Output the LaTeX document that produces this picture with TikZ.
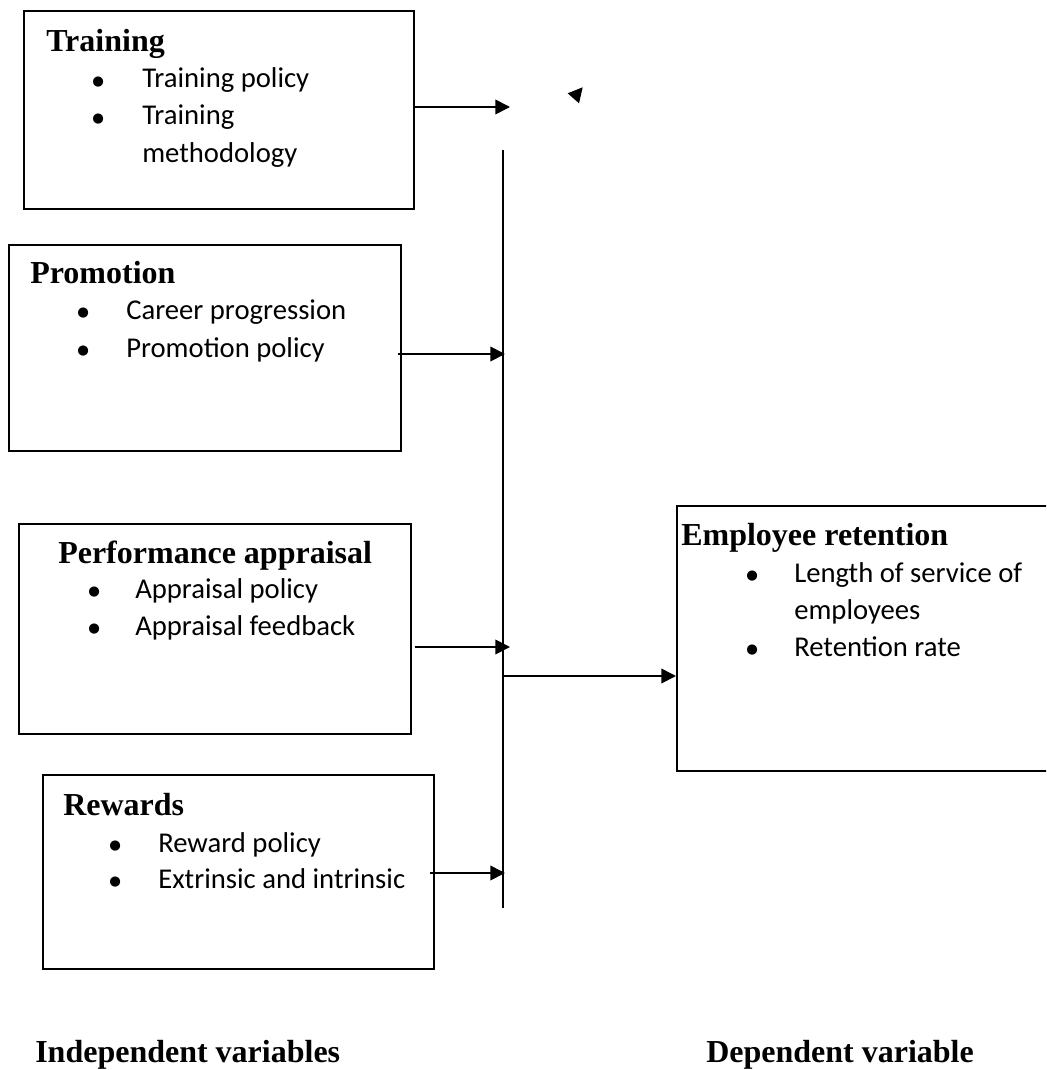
\documentclass[tikz,border=0pt]{standalone}
\usepackage{fontspec}
\setmainfont{Liberation Serif}
\newfontfamily\itemfamily{Carlito}
\newfontfamily\dotfamily{DejaVu Sans}
\usetikzlibrary{arrows.meta}
\newcommand{\bdot}[1]{\makebox[#1][l]{\raisebox{2.2pt}{\dotfamily\fontsize{10}{10}\selectfont ●}}}
\tikzset{
  box/.style={draw, line width=1.3pt, rectangle, inner sep=0pt, anchor=north west},
  ttl/.style={anchor=base west, inner sep=0pt, font=\fontsize{24}{28}\selectfont\bfseries},
  itm/.style={anchor=base west, inner sep=0pt, font=\fontsize{21.5}{26}\selectfont\itemfamily},
  conn/.style={line width=1.3pt, -{Triangle[length=11pt,width=11pt]}},
  trunk/.style={line width=1.3pt}
}
\begin{document}
\begin{tikzpicture}[x=0.75pt,y=-0.75pt]
\useasboundingbox (0,0) rectangle (1046,1070);
\clip (0,0) rectangle (1046,1070);
\fill[white] (0,0) rectangle (1046,1070);

% boxes
\node[box, minimum width=390*0.75pt, minimum height=198*0.75pt] (train) at (23,10) {};
\node[box, minimum width=392*0.75pt, minimum height=206*0.75pt] (prom) at (8,244) {};
\node[box, minimum width=392*0.75pt, minimum height=210*0.75pt] (perf) at (18,523) {};
\node[box, minimum width=391*0.75pt, minimum height=194*0.75pt] (rew) at (42,774) {};
\node[box, minimum width=420*0.75pt, minimum height=265*0.75pt] (ret) at (676,505) {};

% Training
\node[ttl] (trainT) at (46,52) {Training};
\node[itm] (trainI1) at (92,88) {\bdot{37.5pt}Training policy};
\node[itm] (trainI2) at (92,125) {\bdot{37.5pt}Training};
\node[itm] (trainI3) at (142,162) {methodology};

% Promotion
\node[ttl] (promT) at (30,283) {Promotion};
\node[itm] (promI1) at (77,319) {\bdot{36.75pt}Career progression};
\node[itm] (promI2) at (77,357) {\bdot{36.75pt}Promotion policy};

% Performance appraisal
\node[ttl] (perfT) at (58,563) {Performance appraisal};
\node[itm] (perfI1) at (88,598) {\bdot{35.25pt}Appraisal policy};
\node[itm] (perfI2) at (88,635) {\bdot{35.25pt}Appraisal feedback};

% Rewards
\node[ttl] (rewT) at (63,815) {Rewards};
\node[itm] (rewI1) at (109,852) {\bdot{36.75pt}Reward policy};
\node[itm] (rewI2) at (109,888) {\bdot{36.75pt}Extrinsic and intrinsic};

% Employee retention
\node[ttl] (retT) at (681,545) {Employee retention};
\node[itm] (retI1) at (746,582) {\bdot{36pt}Length of service of};
\node[itm] (retI2) at (794,619) {employees};
\node[itm] (retI3) at (746,656) {\bdot{36pt}Retention rate};

% bottom labels
\node[ttl] (indep) at (35,1062) {Independent variables};
\node[ttl] (dep) at (706,1062) {Dependent variable};

% trunk line
\coordinate (vtop) at (503,150);
\coordinate (vbot) at (503,908);
\draw[trunk] (vtop) -- (vbot);

% connectors
\coordinate (tT) at (510,107);
\draw[conn] (train.east |- tT) -- (tT);
\coordinate (tP) at (505,354);
\draw[conn] ([xshift=-4*0.75pt]prom.east |- tP) -- (tP);
\coordinate (tA) at (510,647);
\draw[conn] ([xshift=3*0.75pt]perf.east |- tA) -- (tA);
\coordinate (tR) at (505,873);
\draw[conn] ([xshift=-5*0.75pt]rew.east |- tR) -- (tR);
\coordinate (jn) at (503,676);
\draw[conn] (jn) -- (jn -| ret.west);

% stray arrowhead
\fill (567.7,93.3) -- (582.7,87.3) -- (579,103.3) -- cycle;
\end{tikzpicture}
\end{document}
